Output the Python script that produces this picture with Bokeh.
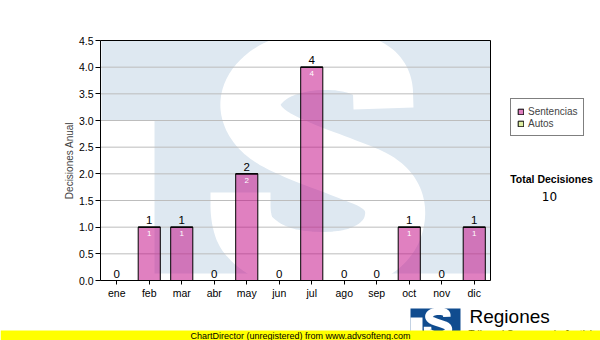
import numpy as np
from bokeh.plotting import figure
from bokeh.models import (ColumnDataSource, Range1d, LinearAxis,
                          FixedTicker, NumeralTickFormatter, Legend, LegendItem, Label,
                          BoxAnnotation)
from bokeh.core.properties import value
from bokeh.embed import file_html
from bokeh.resources import INLINE

# ---------------- data ----------------
months = ["ene", "feb", "mar", "abr", "may", "jun", "jul", "ago", "sep", "oct", "nov", "dic"]
sentencias = [0, 1, 1, 0, 2, 0, 4, 0, 0, 1, 0, 1]
autos = [0, 0, 0, 0, 0, 0, 0, 0, 0, 0, 0, 0]
y_ticks = [0.0, 0.5, 1.0, 1.5, 2.0, 2.5, 3.0, 3.5, 4.0, 4.5]
series_names = ["Sentencias", "Autos"]
y_title = "Decisiones Anual"
total_title = "Total Decisiones"
brand = "Regiones"
brand_sub = "Tribunal Supremo de Justicia"
footer = "ChartDirector (unregistered) from www.advsofteng.com"

totals = [s + a for s, a in zip(sentencias, autos)]
grand_total = str(sum(totals))
xpos = list(range(len(months)))
Y_MIN, Y_MAX = 0.0, 4.5

# ---------------- layout (canvas pixels) ----------------
W, H = 600, 340
PL, PR, PT, PB = 100, 490, 40, 280
X0, X1 = -0.5, len(months) - 0.5
kx = (X1 - X0) / (PR - PL)
ky = (Y_MAX - Y_MIN) / (PB - PT)

FONT = "Liberation Sans"
PINK = "#C10181"
GREEN = "#BBDD44"
WM_BLUE = "#DEE8F1"
LOGO_BLUE = "#104C8F"

# decorative watermark geometry (canvas pixel coords)
S_PATH_X = [383, 382, 357, 317, 277, 253, 248, 263, 297, 343, 383, 397, 390, 363, 323, 277, 247, 240, 240]
S_PATH_Y = [108, 77, 62, 58, 67, 87, 110, 133, 150, 167, 183, 207, 237, 257, 263, 257, 237, 217, 192]


def chaikin(xs, ys, n=3):
    pts = np.column_stack([xs, ys]).astype(float)
    for _ in range(n):
        new = [pts[0]]
        for a, b in zip(pts[:-1], pts[1:]):
            new.append(0.75 * a + 0.25 * b)
            new.append(0.25 * a + 0.75 * b)
        new.append(pts[-1])
        pts = np.array(new)
    return pts[:, 0], pts[:, 1]


p = figure(width=W, height=H,
           x_range=Range1d(X0 - PL * kx, X1 + (W - PR) * kx),
           y_range=Range1d(Y_MIN - (H - PB) * ky, Y_MAX + PT * ky),
           output_backend="svg", toolbar_location=None,
           min_border=0, min_border_left=0, min_border_right=0, min_border_top=0, min_border_bottom=0,
           x_axis_type=None, y_axis_type=None)
p.extra_x_ranges = {"px": Range1d(0, W)}
p.extra_y_ranges = {"py": Range1d(H, 0)}
p.outline_line_color = None
p.background_fill_color = "white"
p.border_fill_color = "white"
p.grid.visible = False

# watermark
p.quad(left=[PL + 1], right=[PR], top=[PT], bottom=[273], x_range_name="px", y_range_name="py",
       fill_color=WM_BLUE, line_color=None, level="image")
p.quad(left=[PL], right=[154], top=[120], bottom=[PB], x_range_name="px", y_range_name="py",
       fill_color="white", line_color=None, level="image")
sx, sy = chaikin(S_PATH_X, S_PATH_Y)
p.line([float(v) for v in sx], [float(v) for v in sy], x_range_name="px", y_range_name="py",
       line_color="white", line_width=60, line_join="round", line_cap="butt", level="image")

# grid lines
p.segment(x0=[X0] * len(y_ticks), x1=[X1] * len(y_ticks), y0=y_ticks, y1=y_ticks,
          line_color="#BDBDBD", line_width=1, level="underlay")

# bars
r_s = p.vbar(x=xpos, top=sentencias, width=0.68, fill_color=PINK, fill_alpha=0.5,
             line_color="black", line_width=1)
r_a = p.vbar(x=xpos, bottom=sentencias, top=totals, width=0.68, fill_color=GREEN, fill_alpha=0.5,
             line_color="black", line_width=1)

# value labels
src_top = ColumnDataSource(dict(x=xpos, y=totals, t=[str(v) for v in totals]))
p.text(x="x", y="y", text="t", source=src_top, text_align="center", text_baseline="bottom",
       y_offset=-3, text_font=value(FONT), text_font_size="11.5px", text_color="black")
inner = [(i, s) for i, s in zip(xpos, sentencias) if s > 0]
src_in = ColumnDataSource(dict(x=[i[0] for i in inner], y=[i[1] for i in inner],
                               t=[str(i[1]) for i in inner]))
p.text(x="x", y="y", text="t", source=src_in, text_align="center", text_baseline="top",
       y_offset=4, text_font=value(FONT), text_font_size="8px", text_color="white")

# axes (fixed inside the full-canvas frame)
xax = LinearAxis(fixed_location=Y_MIN, bounds=(X0, X1), ticker=FixedTicker(ticks=xpos),
                 major_label_overrides={i: m for i, m in zip(xpos, months)})
yax = LinearAxis(fixed_location=X0, bounds=(Y_MIN, Y_MAX), ticker=FixedTicker(ticks=y_ticks),
                 formatter=NumeralTickFormatter(format="0.0"), axis_label=y_title)
rax = LinearAxis(fixed_location=X1, bounds=(Y_MIN, Y_MAX), major_tick_line_color=None,
                 major_label_text_alpha=0, major_label_text_font_size="1px")
tax = LinearAxis(fixed_location=Y_MAX, bounds=(X0, X1), major_tick_line_color=None,
                 major_label_text_alpha=0, major_label_text_font_size="1px")
for ax in (xax, yax, rax, tax):
    ax.axis_line_color = "black"
    ax.minor_tick_line_color = None
    ax.major_tick_in = 0
    ax.major_label_text_font = FONT
    ax.major_label_text_color = "black"
for ax in (xax, yax):
    ax.major_tick_line_color = "black"
    ax.major_label_text_font_size = "10.5px"
yax.major_tick_out = 5
yax.major_label_standoff = 2
xax.major_tick_out = 4
xax.major_label_standoff = 2
yax.axis_label_text_font = FONT
yax.axis_label_text_font_size = "10px"
yax.axis_label_text_font_style = "normal"
yax.axis_label_standoff = 1
p.add_layout(xax, "below")
p.add_layout(yax, "left")
p.add_layout(rax, "right")
p.add_layout(tax, "above")

# legend
legend = Legend(items=[LegendItem(label=series_names[0], renderers=[r_s]),
                       LegendItem(label=series_names[1], renderers=[r_a])],
                location=(510, H - 136), border_line_color="black", border_line_width=1,
                background_fill_color="white", background_fill_alpha=1,
                label_text_font=FONT, label_text_font_size="10px", glyph_width=7, glyph_height=7,
                label_height=12, label_standoff=4, spacing=0, padding=6, margin=0)
p.add_layout(legend)

# total
p.add_layout(Label(x=551, y=178, x_range_name="px", y_range_name="py", text=total_title,
                   text_align="center", text_baseline="middle", text_font=FONT,
                   text_font_style="bold", text_font_size="10.5px", text_color="black"))
p.add_layout(Label(x=549, y=196, x_range_name="px", y_range_name="py", text=grand_total,
                   text_align="center", text_baseline="middle", text_font="DejaVu Sans",
                   text_font_size="12px", text_color="black"))

# logo (decoration, canvas pixel coords)
p.quad(left=[410], right=[460], top=[308], bottom=[345], x_range_name="px", y_range_name="py",
       fill_color=LOGO_BLUE, line_color=None)
p.quad(left=[410], right=[422], top=[317], bottom=[345], x_range_name="px", y_range_name="py",
       fill_color="white", line_color=None)
lx = 423 + (sx - 210) * 0.135
ly = 307 + (sy - 28) * 0.118
p.line([float(v) for v in lx], [float(v) for v in ly], x_range_name="px", y_range_name="py",
       line_color="white", line_width=7.5, line_join="round", line_cap="butt")
p.add_layout(Label(x=469, y=316, x_range_name="px", y_range_name="py", text=brand,
                   text_baseline="middle", text_font=FONT, text_font_size="19px",
                   text_color="black"))
p.add_layout(Label(x=468, y=334, x_range_name="px", y_range_name="py", text=brand_sub,
                   text_baseline="middle", text_font=FONT, text_font_size="10px",
                   text_color="black"))

# footer band
p.add_layout(BoxAnnotation(left=0, right=W, top=330, bottom=H, x_range_name="px",
                           y_range_name="py", fill_color="#FFFF00", fill_alpha=1, line_color=None))
p.add_layout(Label(x=190, y=335, x_range_name="px", y_range_name="py", text=footer,
                   text_baseline="middle", text_font=FONT, text_font_size="9px",
                   text_color="black"))

open("out.html", "w").write(file_html(p, INLINE))
